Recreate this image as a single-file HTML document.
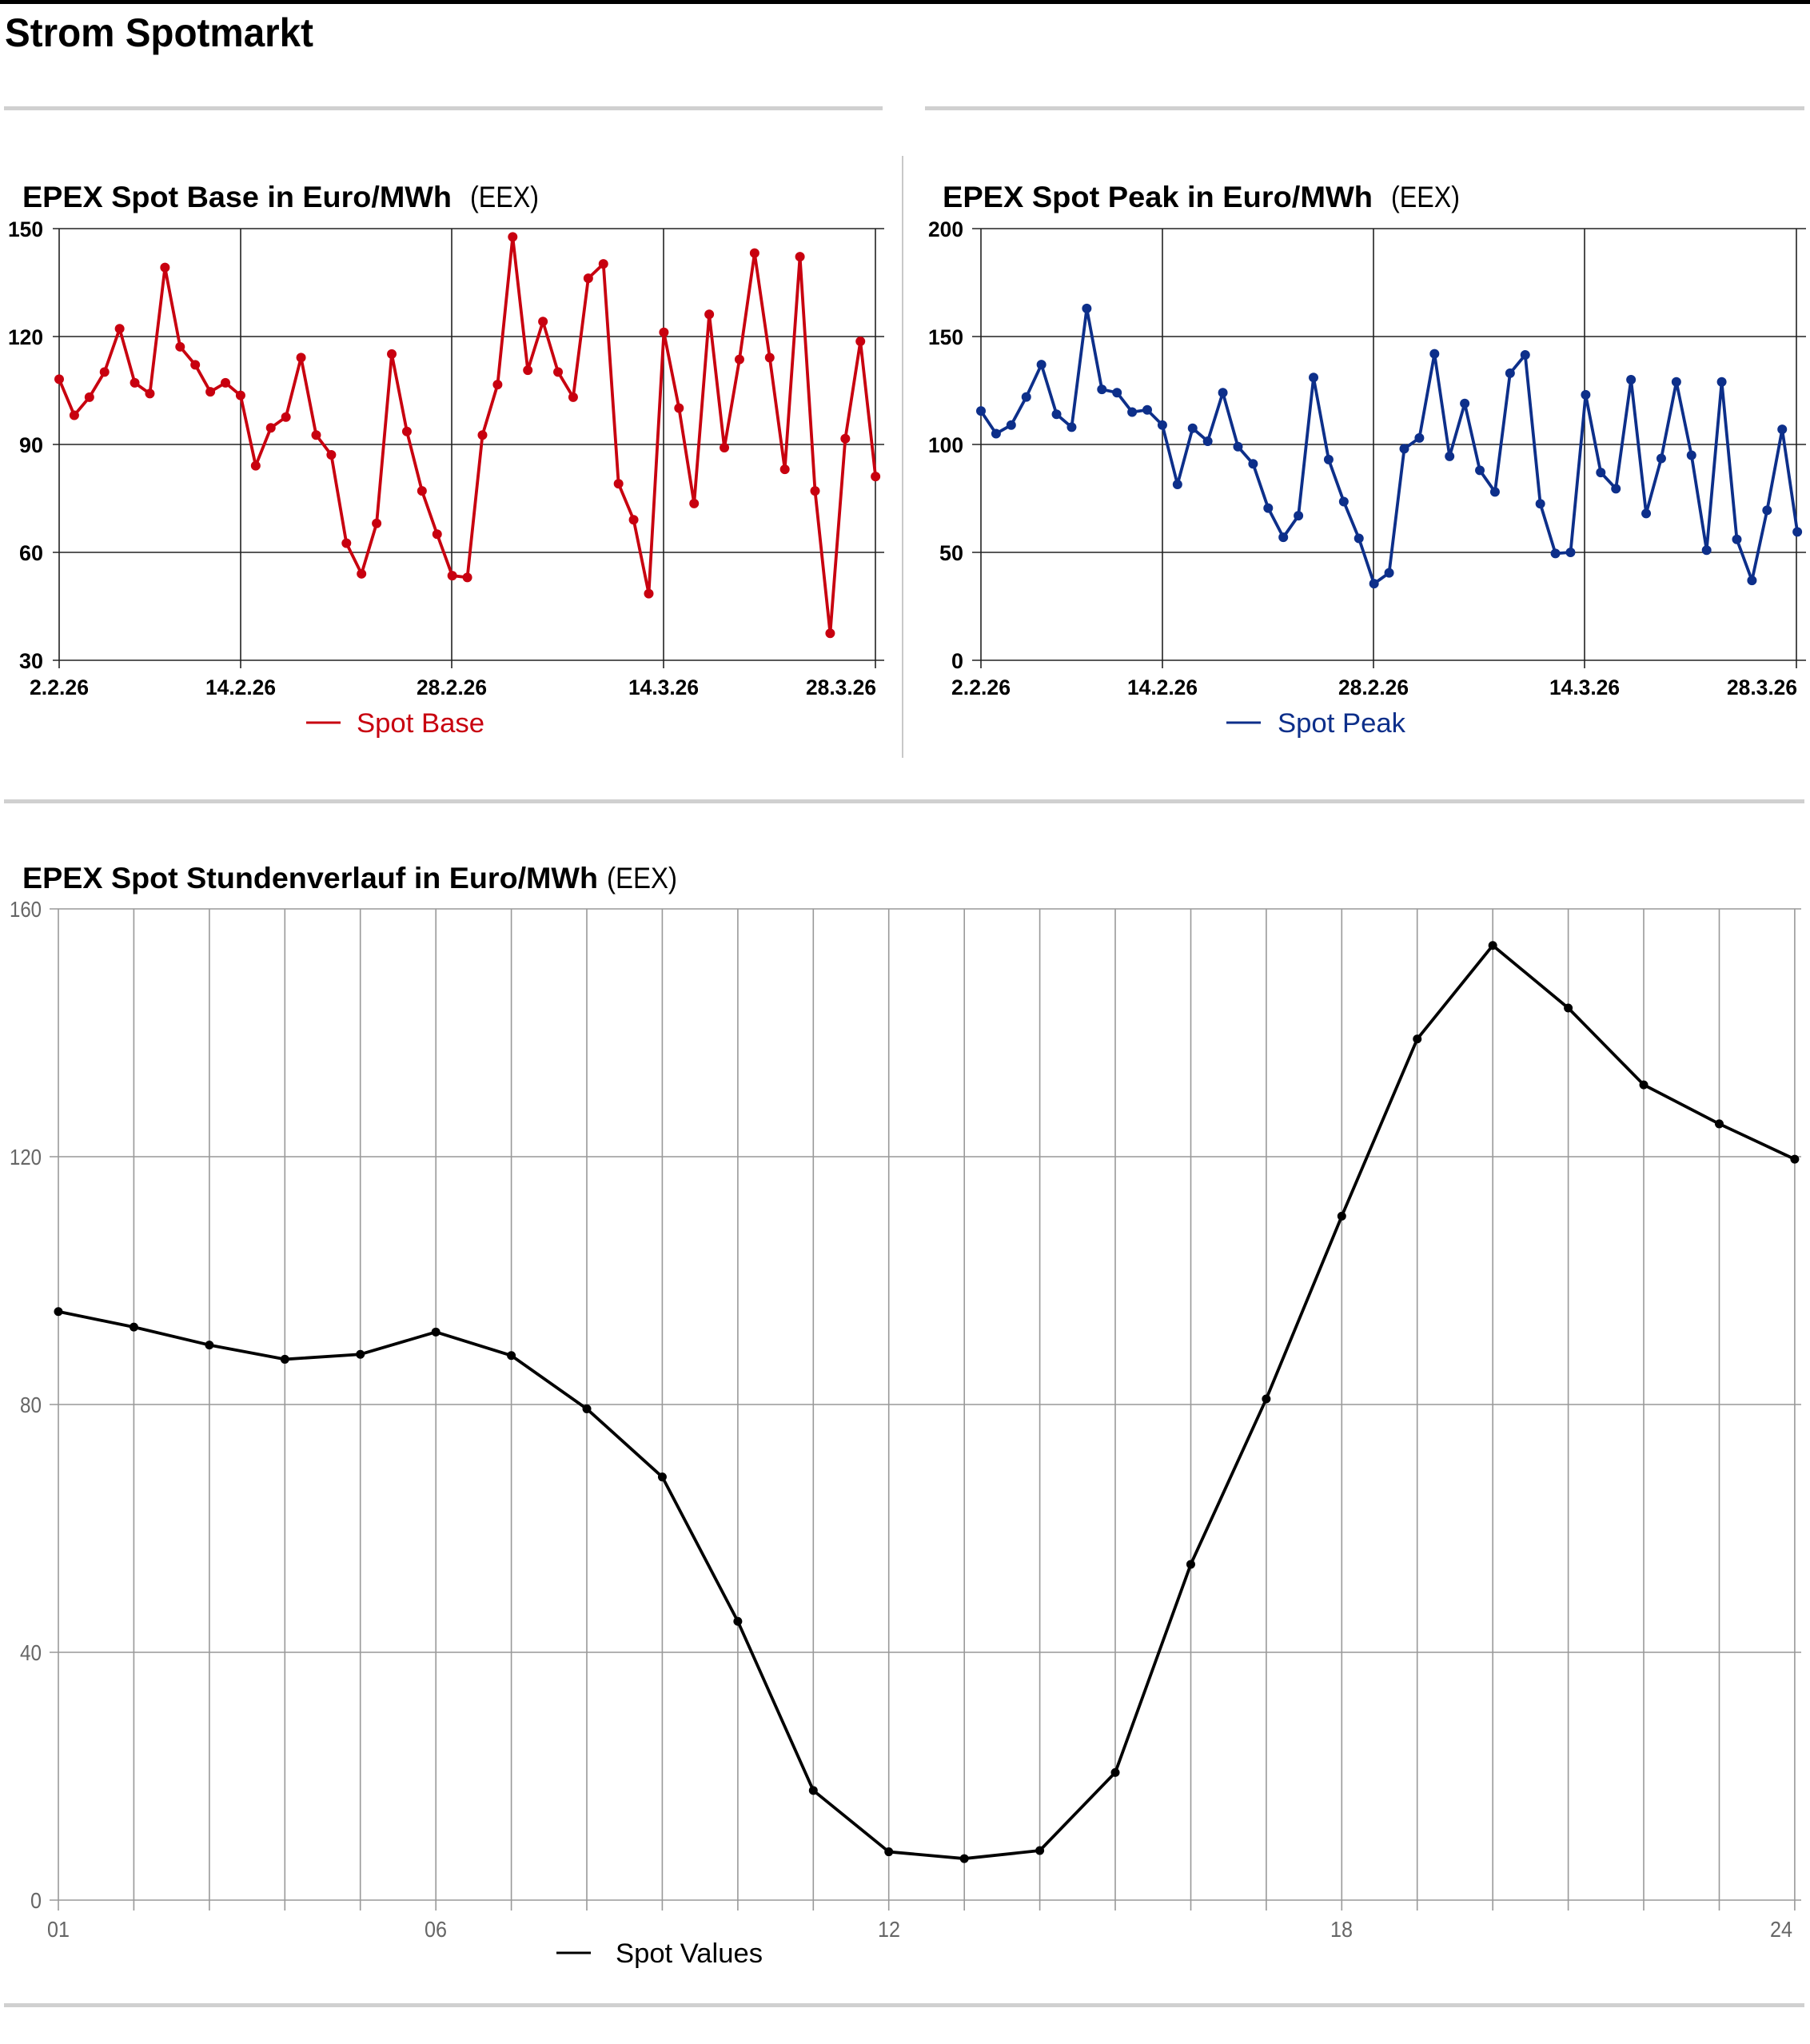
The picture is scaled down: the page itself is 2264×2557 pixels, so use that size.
<!DOCTYPE html>
<html><head><meta charset="utf-8"><style>
html,body{margin:0;padding:0;background:#fff;}
svg{display:block;font-family:"Liberation Sans",Arial,sans-serif;}
</style></head><body>
<svg width="2264" height="2557" viewBox="0 0 2264 2557" xmlns="http://www.w3.org/2000/svg">
<rect x="0" y="0" width="2264" height="5" fill="#000"/>
<text x="6" y="58" font-size="50" font-weight="bold" textLength="386" lengthAdjust="spacingAndGlyphs">Strom Spotmarkt</text>
<rect x="5" y="133" width="1099" height="5" fill="#d0d0d0"/>
<rect x="1157" y="133" width="1100" height="5" fill="#d0d0d0"/>
<rect x="1128" y="195" width="2" height="753" fill="#c8c8c8"/>
<rect x="5" y="1000" width="2252" height="5" fill="#d0d0d0"/>
<rect x="5" y="2506" width="2252" height="5" fill="#d0d0d0"/>

<!-- LEFT CHART -->
<text x="28" y="259" font-size="37" font-weight="bold" textLength="537" lengthAdjust="spacingAndGlyphs">EPEX Spot Base in Euro/MWh</text>
<text x="588" y="259" font-size="37" textLength="86" lengthAdjust="spacingAndGlyphs">(EEX)</text>
<g stroke="#222" stroke-width="1.6">
<line x1="66" y1="286" x2="1106" y2="286"/>
<line x1="66" y1="421" x2="1106" y2="421"/>
<line x1="66" y1="556" x2="1106" y2="556"/>
<line x1="66" y1="691" x2="1106" y2="691"/>
<line x1="66" y1="826" x2="1106" y2="826"/>
<line x1="74" y1="286" x2="74" y2="836"/>
<line x1="301" y1="286" x2="301" y2="836"/>
<line x1="565" y1="286" x2="565" y2="836"/>
<line x1="830" y1="286" x2="830" y2="836"/>
<line x1="1095" y1="286" x2="1095" y2="836"/>
</g>
<g font-size="27" font-weight="bold" text-anchor="end">
<text x="54" y="296" textLength="44" lengthAdjust="spacingAndGlyphs">150</text>
<text x="54" y="431" textLength="44" lengthAdjust="spacingAndGlyphs">120</text>
<text x="54" y="566" textLength="30" lengthAdjust="spacingAndGlyphs">90</text>
<text x="54" y="701" textLength="30" lengthAdjust="spacingAndGlyphs">60</text>
<text x="54" y="836" textLength="30" lengthAdjust="spacingAndGlyphs">30</text>
</g>
<g font-size="27" font-weight="bold" text-anchor="middle">
<text x="74" y="869" textLength="74" lengthAdjust="spacingAndGlyphs">2.2.26</text>
<text x="301" y="869" textLength="88" lengthAdjust="spacingAndGlyphs">14.2.26</text>
<text x="565" y="869" textLength="88" lengthAdjust="spacingAndGlyphs">28.2.26</text>
<text x="830" y="869" textLength="88" lengthAdjust="spacingAndGlyphs">14.3.26</text>
<text x="1096" y="869" text-anchor="end" textLength="88" lengthAdjust="spacingAndGlyphs">28.3.26</text>
</g>
<line x1="383" y1="904" x2="426" y2="904" stroke="#c8000f" stroke-width="3"/>
<text x="446" y="916" font-size="34" fill="#c8000f" textLength="160" lengthAdjust="spacingAndGlyphs">Spot Base</text>
<g transform="translate(74,961.25) scale(18.91,-4.508)">
<polyline fill="none" stroke="#c8000f" stroke-width="3.8" vector-effect="non-scaling-stroke" stroke-linejoin="round" points="0,108 1,98 2,103 3,110 4,122 5,107 6,104 7,139 8,117 9,112 10,104.5 11,107 12,103.5 13,84 14,94.5 15,97.5 16,114 17,92.5 18,87 19,62.5 20,54 21,68 22,115 23,93.5 24,77 25,65 26,53.5 27,53 28,92.5 29,106.5 30,147.5 31,110.5 32,124 33,110 34,103 35,136 36,140 37,79 38,69 39,48.5 40,121 41,100 42,73.5 43,126 44,89 45,113.5 46,143 47,114 48,83 49,142 50,77 51,37.5 52,91.5 53,118.5 54,81"/>
<path fill="none" stroke="#c8000f" stroke-width="12" stroke-linecap="round" vector-effect="non-scaling-stroke" d="M0,108l0,0M1,98l0,0M2,103l0,0M3,110l0,0M4,122l0,0M5,107l0,0M6,104l0,0M7,139l0,0M8,117l0,0M9,112l0,0M10,104.5l0,0M11,107l0,0M12,103.5l0,0M13,84l0,0M14,94.5l0,0M15,97.5l0,0M16,114l0,0M17,92.5l0,0M18,87l0,0M19,62.5l0,0M20,54l0,0M21,68l0,0M22,115l0,0M23,93.5l0,0M24,77l0,0M25,65l0,0M26,53.5l0,0M27,53l0,0M28,92.5l0,0M29,106.5l0,0M30,147.5l0,0M31,110.5l0,0M32,124l0,0M33,110l0,0M34,103l0,0M35,136l0,0M36,140l0,0M37,79l0,0M38,69l0,0M39,48.5l0,0M40,121l0,0M41,100l0,0M42,73.5l0,0M43,126l0,0M44,89l0,0M45,113.5l0,0M46,143l0,0M47,114l0,0M48,83l0,0M49,142l0,0M50,77l0,0M51,37.5l0,0M52,91.5l0,0M53,118.5l0,0M54,81l0,0"/>
</g>

<!-- RIGHT CHART -->
<text x="1179" y="259" font-size="37" font-weight="bold" textLength="538" lengthAdjust="spacingAndGlyphs">EPEX Spot Peak in Euro/MWh</text>
<text x="1740" y="259" font-size="37" textLength="86" lengthAdjust="spacingAndGlyphs">(EEX)</text>
<g stroke="#222" stroke-width="1.6">
<line x1="1216" y1="286" x2="2259" y2="286"/>
<line x1="1216" y1="421" x2="2259" y2="421"/>
<line x1="1216" y1="556" x2="2259" y2="556"/>
<line x1="1216" y1="691" x2="2259" y2="691"/>
<line x1="1216" y1="826" x2="2259" y2="826"/>
<line x1="1227" y1="286" x2="1227" y2="836"/>
<line x1="1454" y1="286" x2="1454" y2="836"/>
<line x1="1718" y1="286" x2="1718" y2="836"/>
<line x1="1982" y1="286" x2="1982" y2="836"/>
<line x1="2247" y1="286" x2="2247" y2="836"/>
</g>
<g font-size="27" font-weight="bold" text-anchor="end">
<text x="1205" y="296" textLength="44" lengthAdjust="spacingAndGlyphs">200</text>
<text x="1205" y="431" textLength="44" lengthAdjust="spacingAndGlyphs">150</text>
<text x="1205" y="566" textLength="44" lengthAdjust="spacingAndGlyphs">100</text>
<text x="1205" y="701" textLength="30" lengthAdjust="spacingAndGlyphs">50</text>
<text x="1205" y="836" textLength="15" lengthAdjust="spacingAndGlyphs">0</text>
</g>
<g font-size="27" font-weight="bold" text-anchor="middle">
<text x="1227" y="869" textLength="74" lengthAdjust="spacingAndGlyphs">2.2.26</text>
<text x="1454" y="869" textLength="88" lengthAdjust="spacingAndGlyphs">14.2.26</text>
<text x="1718" y="869" textLength="88" lengthAdjust="spacingAndGlyphs">28.2.26</text>
<text x="1982" y="869" textLength="88" lengthAdjust="spacingAndGlyphs">14.3.26</text>
<text x="2248" y="869" text-anchor="end" textLength="88" lengthAdjust="spacingAndGlyphs">28.3.26</text>
</g>
<line x1="1534" y1="904" x2="1577" y2="904" stroke="#0d2f8a" stroke-width="3"/>
<text x="1598" y="916" font-size="34" fill="#0d2f8a" textLength="160" lengthAdjust="spacingAndGlyphs">Spot Peak</text>
<g transform="translate(1227,826) scale(18.91,-2.7)">
<polyline fill="none" stroke="#0d2f8a" stroke-width="3.8" vector-effect="non-scaling-stroke" stroke-linejoin="round" points="0,115.5 1,105 2,109 3,122 4,137 5,114 6,108 7,163 8,125.5 9,124 10,115 11,116 12,109 13,81.5 14,107.5 15,101.5 16,124 17,99 18,91 19,70.5 20,57 21,67 22,131 23,93 24,73.5 25,56.5 26,35.5 27,40.5 28,98 29,103 30,142 31,94.5 32,119 33,88 34,78 35,133 36,141.5 37,72.5 38,49.5 39,50 40,123 41,87 42,79.5 43,130 44,68 45,93.5 46,129 47,95 48,51 49,129 50,56 51,37 52,69.5 53,107 54,59.5"/>
<path fill="none" stroke="#0d2f8a" stroke-width="12" stroke-linecap="round" vector-effect="non-scaling-stroke" d="M0,115.5l0,0M1,105l0,0M2,109l0,0M3,122l0,0M4,137l0,0M5,114l0,0M6,108l0,0M7,163l0,0M8,125.5l0,0M9,124l0,0M10,115l0,0M11,116l0,0M12,109l0,0M13,81.5l0,0M14,107.5l0,0M15,101.5l0,0M16,124l0,0M17,99l0,0M18,91l0,0M19,70.5l0,0M20,57l0,0M21,67l0,0M22,131l0,0M23,93l0,0M24,73.5l0,0M25,56.5l0,0M26,35.5l0,0M27,40.5l0,0M28,98l0,0M29,103l0,0M30,142l0,0M31,94.5l0,0M32,119l0,0M33,88l0,0M34,78l0,0M35,133l0,0M36,141.5l0,0M37,72.5l0,0M38,49.5l0,0M39,50l0,0M40,123l0,0M41,87l0,0M42,79.5l0,0M43,130l0,0M44,68l0,0M45,93.5l0,0M46,129l0,0M47,95l0,0M48,51l0,0M49,129l0,0M50,56l0,0M51,37l0,0M52,69.5l0,0M53,107l0,0M54,59.5l0,0"/>
</g>

<!-- BOTTOM CHART -->
<text x="28" y="1111" font-size="37" font-weight="bold" textLength="720" lengthAdjust="spacingAndGlyphs">EPEX Spot Stundenverlauf in Euro/MWh</text>
<text x="759" y="1111" font-size="37" textLength="88" lengthAdjust="spacingAndGlyphs">(EEX)</text>
<g stroke="#999" stroke-width="1.6">
<line x1="62" y1="1137" x2="2253" y2="1137"/>
<line x1="62" y1="1447" x2="2253" y2="1447"/>
<line x1="62" y1="1757" x2="2253" y2="1757"/>
<line x1="62" y1="2067" x2="2253" y2="2067"/>
<line x1="62" y1="2377" x2="2253" y2="2377"/>
<path d="M73,1137V2390M167.4,1137V2390M261.9,1137V2390M356.3,1137V2390M450.7,1137V2390M545.2,1137V2390M639.6,1137V2390M734,1137V2390M828.4,1137V2390M922.9,1137V2390M1017.3,1137V2390M1111.7,1137V2390M1206.2,1137V2390M1300.6,1137V2390M1395,1137V2390M1489.5,1137V2390M1583.9,1137V2390M1678.3,1137V2390M1772.7,1137V2390M1867.2,1137V2390M1961.6,1137V2390M2056,1137V2390M2150.5,1137V2390M2244.9,1137V2390"/>
</g>
<g font-size="28" fill="#666" text-anchor="end">
<text x="52" y="1147" textLength="40" lengthAdjust="spacingAndGlyphs">160</text>
<text x="52" y="1457" textLength="40" lengthAdjust="spacingAndGlyphs">120</text>
<text x="52" y="1767" textLength="27" lengthAdjust="spacingAndGlyphs">80</text>
<text x="52" y="2077" textLength="27" lengthAdjust="spacingAndGlyphs">40</text>
<text x="52" y="2387" textLength="14" lengthAdjust="spacingAndGlyphs">0</text>
</g>
<g font-size="28" fill="#666" text-anchor="middle">
<text x="73" y="2423" textLength="28" lengthAdjust="spacingAndGlyphs">01</text>
<text x="545" y="2423" textLength="28" lengthAdjust="spacingAndGlyphs">06</text>
<text x="1112" y="2423" textLength="28" lengthAdjust="spacingAndGlyphs">12</text>
<text x="1678" y="2423" textLength="28" lengthAdjust="spacingAndGlyphs">18</text>
<text x="2242" y="2423" text-anchor="end" textLength="28" lengthAdjust="spacingAndGlyphs">24</text>
</g>
<line x1="696" y1="2443" x2="739" y2="2443" stroke="#000" stroke-width="3"/>
<text x="770" y="2455" font-size="34" textLength="184" lengthAdjust="spacingAndGlyphs">Spot Values</text>
<g transform="translate(-21.43,2377) scale(94.43,-7.75)">
<polyline fill="none" stroke="#000" stroke-width="3.8" vector-effect="non-scaling-stroke" stroke-linejoin="round" points="1,95 2,92.5 3,89.6 4,87.3 5,88.1 6,91.7 7,87.9 8,79.3 9,68.3 10,45 11,17.7 12,7.8 13,6.7 14,8 15,20.6 16,54.2 17,80.9 18,110.4 19,139 20,154.1 21,144 22,131.6 23,125.3 24,119.6"/>
<path fill="none" stroke="#000" stroke-width="11" stroke-linecap="round" vector-effect="non-scaling-stroke" d="M1,95l0,0M2,92.5l0,0M3,89.6l0,0M4,87.3l0,0M5,88.1l0,0M6,91.7l0,0M7,87.9l0,0M8,79.3l0,0M9,68.3l0,0M10,45l0,0M11,17.7l0,0M12,7.8l0,0M13,6.7l0,0M14,8l0,0M15,20.6l0,0M16,54.2l0,0M17,80.9l0,0M18,110.4l0,0M19,139l0,0M20,154.1l0,0M21,144l0,0M22,131.6l0,0M23,125.3l0,0M24,119.6l0,0"/>
</g>
</svg>
</body></html>
